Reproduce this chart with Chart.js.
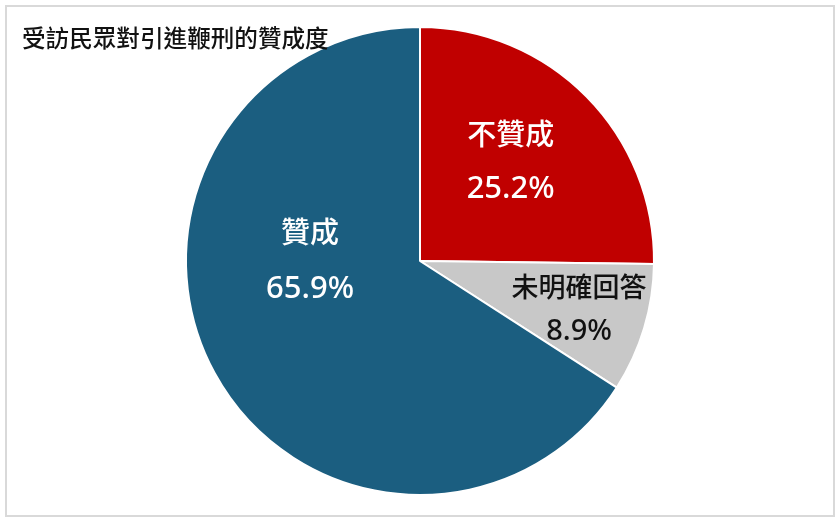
<!DOCTYPE html>
<html>
<head>
<meta charset="utf-8">
<script src="https://cdn.jsdelivr.net/npm/chart.js@4"></script>
<style>
  html, body { margin: 0; padding: 0; background: #fff; }
  canvas { display: block; }
</style>
</head>
<body>
<canvas id="pieChart" width="840" height="524"></canvas>
<script>
// 資料
const chartTitle = '受訪民眾對引進鞭刑的贊成度';
const categories = ['不贊成', '未明確回答', '贊成'];
const shares = [25.2, 8.9, 65.9];
const sliceColors = ['#c00000', '#c8c8c8', '#1b5e80'];
const labelColors = ['#ffffff', '#111111', '#ffffff'];

// 標籤放置 (半徑比例, 角度微調, 字級, 行距)
const labelPlacement = [
    { r: 0.575, turn: -3, size: 29, gap: 55 },
    { r: 0.71, turn: 0, size: 27, gap: 45 },
    { r: 0.47, turn: 29, size: 29, gap: 57 }
];

const cjkFont = '"Noto Sans CJK TC", "Noto Sans", sans-serif';
const numFont = '"Noto Sans", "Noto Sans CJK TC", sans-serif';

// 外框與標題
const framePlugin = {
    id: 'frame',
    beforeDraw(chart) {
        const ctx = chart.ctx;
        ctx.save();
        ctx.fillStyle = '#ffffff';
        ctx.fillRect(0, 0, chart.width, chart.height);
        ctx.strokeStyle = '#d9d9d9';
        ctx.lineWidth = 2;
        ctx.strokeRect(6, 6, 828, 510);
        ctx.restore();
    },
    afterDraw(chart) {
        const ctx = chart.ctx;
        ctx.save();
        ctx.fillStyle = '#111111';
        ctx.font = '500 23.6px ' + cjkFont;
        ctx.textBaseline = 'middle';
        ctx.textAlign = 'left';
        ctx.fillText(chartTitle, 22, 38);
        ctx.restore();
    }
};

// 扇形內標籤
const sliceLabelPlugin = {
    id: 'sliceLabels',
    afterDatasetsDraw(chart) {
        const ctx = chart.ctx;
        const meta = chart.getDatasetMeta(0);
        ctx.save();
        ctx.textAlign = 'center';
        ctx.textBaseline = 'middle';
        meta.data.forEach((arc, i) => {
            const p = arc.getProps(['x', 'y', 'startAngle', 'endAngle', 'outerRadius'], true);
            const place = labelPlacement[i];
            const mid = (p.startAngle + p.endAngle) / 2 + place.turn * Math.PI / 180;
            const dist = p.outerRadius * place.r;
            const cx = p.x + Math.cos(mid) * dist;
            const cy = p.y + Math.sin(mid) * dist;
            ctx.fillStyle = labelColors[i];
            ctx.font = '500 ' + place.size + 'px ' + cjkFont;
            ctx.fillText(categories[i], cx, cy - place.gap / 2);
            ctx.font = '500 ' + (place.size + 2) + 'px ' + numFont;
            ctx.fillText(shares[i].toFixed(1) + '%', cx, cy + place.gap / 2);
        });
        ctx.restore();
    }
};

const ctx = document.getElementById('pieChart').getContext('2d');
new Chart(ctx, {
    type: 'pie',
    data: {
        labels: categories,
        datasets: [{
            data: shares,
            backgroundColor: sliceColors,
            borderColor: '#ffffff',
            borderWidth: 2
        }]
    },
    options: {
        responsive: false,
        animation: false,
        radius: 234,
        layout: { padding: { top: 20, bottom: 22, left: 0, right: 0 } },
        plugins: {
            legend: { display: false },
            tooltip: { enabled: false },
            title: { display: false }
        }
    },
    plugins: [framePlugin, sliceLabelPlugin]
});
</script>
</body>
</html>
